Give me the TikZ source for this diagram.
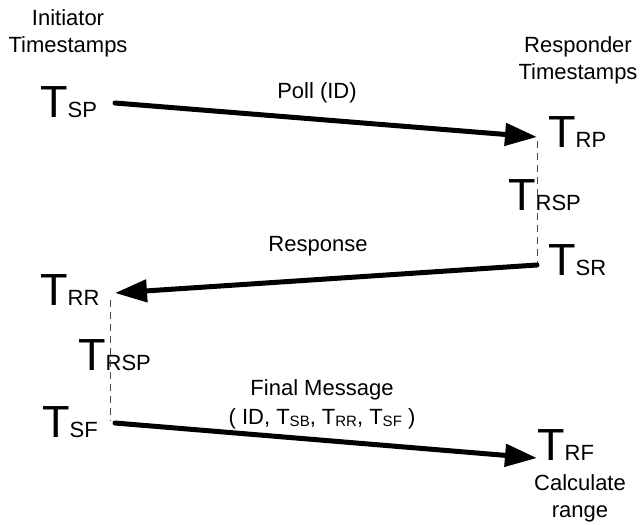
\documentclass[tikz,border=0pt]{standalone}
\usepackage{fontspec}
\setmainfont{Liberation Sans}
\usetikzlibrary{arrows.meta}
\newcommand{\stamp}[1]{{\fontsize{45}{45}\selectfont T}{\fontsize{22}{22}\selectfont #1}}
\newcommand{\lsub}[1]{\raisebox{-2pt}{\fontsize{15}{15}\selectfont #1}}

\begin{document}
\begin{tikzpicture}[x=1pt, y=-1pt,
    tstamp/.style={inner sep=0pt, anchor=base west},
    lbl/.style={inner sep=0pt, anchor=base, align=center, font=\fontsize{22}{27}\selectfont},
    msg/.style={-{Triangle[length=32pt,width=22pt]}, line width=5pt, line cap=round},
    wait/.style={draw=black!70, line width=1pt, dash pattern=on 7pt off 5pt}
]
    \useasboundingbox (0,0) rectangle (641,525);

    % Headers (base = last line)
    \node (hinit) [lbl] at (68,52) {Initiator\\Timestamps};
    \node (hresp) [lbl] at (578,79) {Responder\\Timestamps};

    % Timestamps
    \node (tsp) [tstamp] at (40,117) {\stamp{SP}};
    \node (trp) [tstamp] at (548,147) {\stamp{RP}};
    \node (trsp1) [tstamp] at (508,210) {\stamp{RSP}};
    \node (tsr) [tstamp] at (548,275) {\stamp{SR}};
    \node (trr) [tstamp] at (40,305) {\stamp{RR}};
    \node (trsp2) [tstamp] at (78,370) {\stamp{RSP}};
    \node (tsf) [tstamp] at (42,437) {\stamp{SF}};
    \node (trf) [tstamp] at (537,460) {\stamp{RF}};
    \node (calc) [lbl] at (580,517) {Calculate\\range};

    % Time lines
    \coordinate (iP) at (115,103);
    \coordinate (rP) at (537,137);
    \coordinate (rTop) at (537,141);
    \coordinate (rS) at (537,265);
    \coordinate (iR) at (115,293);
    \coordinate (lTop) at (110,300);
    \coordinate (lBot) at (110,421);
    \coordinate (iF) at (115,423);
    \coordinate (rF) at (537,458);
    \draw[wait] (rTop) -- (rS);
    \draw[wait] (lTop) -- (lBot);

    % Messages
    \draw[msg] (iP) -- (rP);
    \node (poll) [lbl] at (317,98) {Poll (ID)};
    \draw[msg] (rS) -- (iR);
    \node (resp) [lbl] at (318,251) {Response};
    \draw[msg] (iF) -- (rF);
    \node (final) [lbl] at (322,424) {Final Message\\[2pt]( ID, T\lsub{SB}, T\lsub{RR}, T\lsub{SF} )};
\end{tikzpicture}
\end{document}
